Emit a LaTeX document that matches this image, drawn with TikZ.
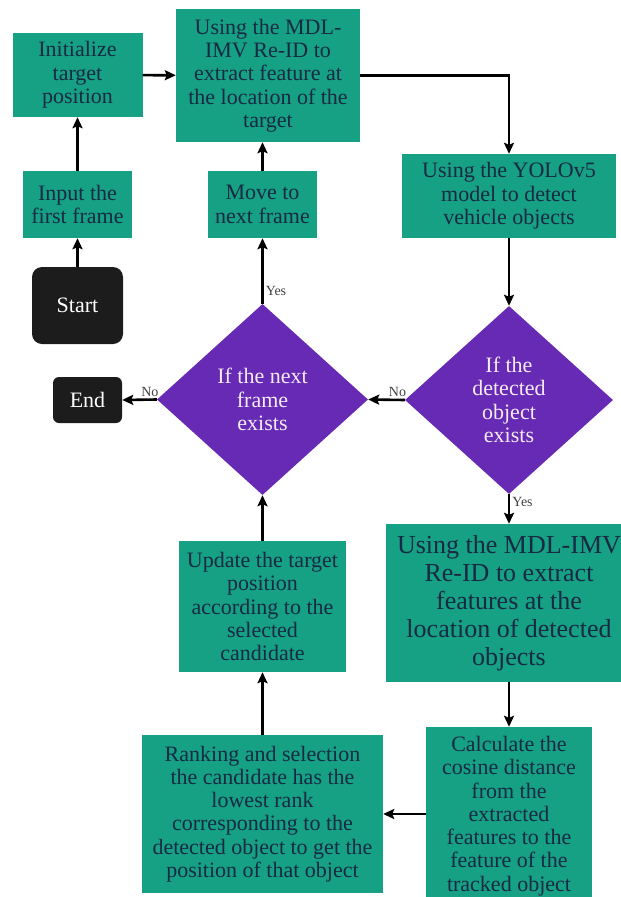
\documentclass[tikz,border=0pt]{standalone}
\usepackage{fontspec}
\setmainfont{Liberation Serif}
\usetikzlibrary{arrows.meta,positioning,shapes.geometric}
\definecolor{stepgreen}{RGB}{22,160,132}
\definecolor{steptext}{RGB}{22,42,68}
\definecolor{decpurple}{RGB}{102,42,180}
\definecolor{termblack}{RGB}{28,28,28}

\begin{document}
\begin{tikzpicture}[
    x=1pt, y=-1pt,
    every node/.style={font=\fontsize{22}{23.3}\selectfont},
    block/.style={rectangle, fill=stepgreen, text=steptext, align=center, inner sep=0pt},
    bigblock/.style={block, font=\fontsize{26}{28}\selectfont},
    decision/.style={diamond, fill=decpurple, text=white!92!violet, align=center, inner sep=0pt},
    terminal/.style={rectangle, rounded corners=10pt, fill=termblack, text=white, align=center, inner sep=0pt},
    arrow/.style={-{Stealth[length=11pt,width=10pt,inset=2pt]}, line width=2.6pt, draw=black},
    lbl/.style={font=\fontsize{14}{16}\selectfont, text=black!75, inner sep=2pt}
]
    \useasboundingbox (0,0) rectangle (621,897);

    \node [block, minimum width=130pt, minimum height=84pt] (init) at (77.5,75) {Initialize\\target\\position};
    \node [block, minimum width=184pt, minimum height=133pt] (reid1) at (268,75.5) {Using the MDL-\\IMV Re-ID to\\extract feature at\\the location of the\\target};
    \node [block, minimum width=109pt, minimum height=67pt] (input) at (77.5,204.5) {Input the\\first frame};
    \node [block, minimum width=109pt, minimum height=67pt] (move) at (262.5,204.5) {Move to\\next frame};
    \node [terminal, minimum width=91pt, minimum height=77pt] (start) at (77.5,305.5) {Start};
    \node [terminal, rounded corners=6pt, minimum width=69pt, minimum height=46pt] (finish) at (87.5,400) {End};
    \node [block, minimum width=214pt, minimum height=84pt] (yolo) at (509,196) {Using the YOLOv5\\model to detect\\vehicle objects};
    \node [decision, minimum width=211pt, minimum height=191pt] (nextframe) at (262.5,399.5) {If the next\\frame\\exists};
    \node [decision, minimum width=208pt, minimum height=188pt] (detected) at (509,400) {If the\\detected\\object\\exists};
    \node [bigblock, minimum width=246pt, minimum height=158pt] (reid2) at (509,603) {Using the MDL-IMV\\Re-ID to extract\\features at the\\location of detected\\objects};
    \node [block, minimum width=167pt, minimum height=131pt] (update) at (262.5,606.5) {Update the target\\position\\according to the\\selected\\candidate};
    \node [block, minimum width=241pt, minimum height=158pt] (rank) at (262.5,814) {Ranking and selection\\the candidate has the\\lowest rank\\corresponding to the\\detected object to get the\\position of that object};
    \node [block, minimum width=166pt, minimum height=178pt] (calc) at (509,816) {Calculate the\\cosine distance\\from the\\extracted\\features to the\\feature of the\\tracked object};

    \draw [arrow] (start) -- (input);
    \draw [arrow] (input) -- (init);
    \draw [arrow] (init) -- (reid1);
    \draw [arrow] (reid1.east) -| (yolo.north);
    \draw [arrow] (yolo) -- (detected);
    \draw [arrow] (detected.south) -- node [lbl, right, pos=0.25] {Yes} (reid2.north);
    \draw [arrow] (detected.west) -- node [lbl, above, pos=0.2] {No} (nextframe.east);
    \draw [arrow] (nextframe.west) -- node [lbl, above, pos=0.2] {No} (finish.east);
    \draw [arrow] (nextframe.north) -- node [lbl, right, pos=0.2] {Yes} (move.south);
    \draw [arrow] (move.north) -- (move.north |- reid1.south);
    \draw [arrow] (reid2) -- (calc);
    \draw [arrow] (calc.west |- rank.east) -- (rank.east);
    \draw [arrow] (rank) -- (update);
    \draw [arrow] (update.north) -- (nextframe.south);
\end{tikzpicture}
\end{document}
